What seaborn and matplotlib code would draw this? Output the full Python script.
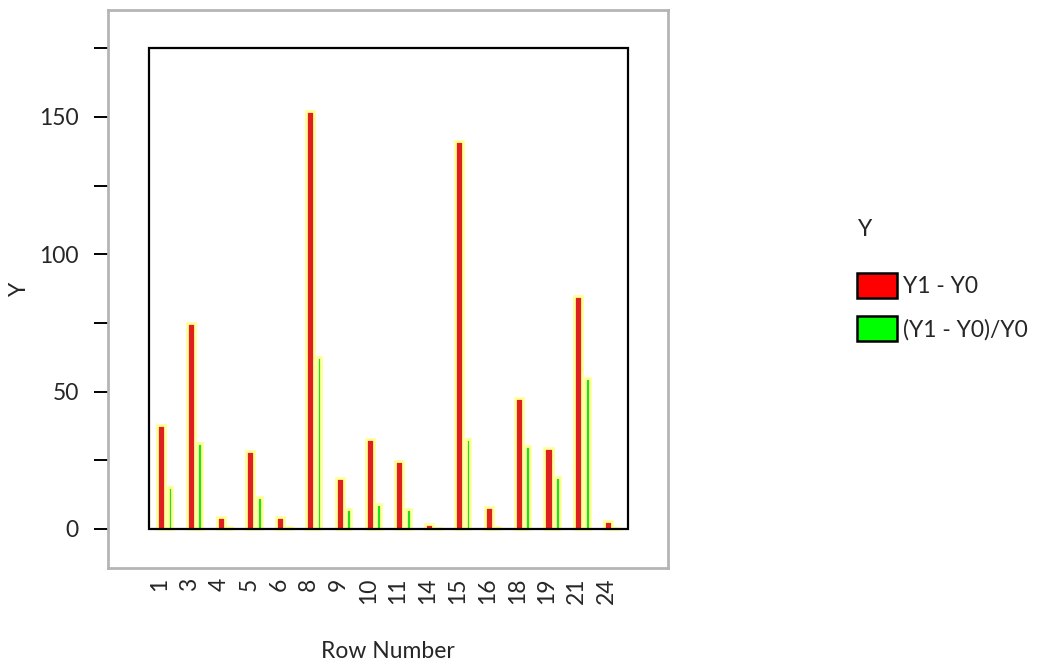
import matplotlib
matplotlib.use("Agg")
import matplotlib.pyplot as plt
from matplotlib.patches import Rectangle, Patch
import pandas as pd
import seaborn as sns

# data
rows = ["1", "3", "4", "5", "6", "8", "9", "10", "11", "14", "15", "16", "18", "19", "21", "24"]
diff = [38, 75, 4.5, 28.4, 4.5, 152, 18.7, 32.8, 24.9, 1.8, 141.2, 8.1, 47.8, 29.4, 84.8, 2.9]
rel_diff = [15.2, 31.2, 0.8, 11.8, 0.8, 62.7, 7.2, 9.0, 7.2, 0.3, 32.8, 0.8, 30.2, 18.8, 54.9, 0.4]
series_names = ["Y1 - Y0", "(Y1 - Y0)/Y0"]
colors = {"Y1 - Y0": "#ff0000", "(Y1 - Y0)/Y0": "#00ff00"}

df = pd.DataFrame({
    "Row Number": rows * 2,
    "Y": diff + rel_diff,
    "series": [series_names[0]] * len(rows) + [series_names[1]] * len(rows),
})

sns.set_style("white")
plt.rcParams["font.family"] = ["Lato", "DejaVu Sans"]
FS = 16.5

fig = plt.figure(figsize=(10.38, 6.64), dpi=100)
ax = fig.add_axes([108 / 1038, 1 - 568 / 664, 560 / 1038, 558 / 664])

sns.barplot(data=df, x="Row Number", y="Y", hue="series", order=rows,
            hue_order=series_names, palette=colors, width=0.6, dodge=True,
            edgecolor="#ffff99", linewidth=2, legend=False, ax=ax, zorder=2)

# narrow the bars, keep their centers (yellow halo around each)
n = len(rows)
for k, p in enumerate(ax.patches[:2 * n]):
    w = 0.27 if k < n else 0.165
    c = p.get_x() + p.get_width() / 2
    p.set_width(w)
    p.set_x(c - w / 2)

# inner black frame
ax.add_patch(Rectangle((-0.55, 0), 16.07, 175, fill=False, edgecolor="black",
                       linewidth=1.6, zorder=5, clip_on=False))

ax.set_xlim(-1.93, 16.86)
ax.set_ylim(-14.2, 188.9)

ax.set_yticks([0, 50, 100, 150])
ax.set_yticks([25, 75, 125, 175], minor=True)
ax.set_xticks([i - 0.2 for i in range(n)])
ax.set_xticklabels(rows, rotation=90)
ax.tick_params(axis="y", which="both", left=True, length=10, width=1.4, color="black",
               labelsize=FS, pad=11)
ax.tick_params(axis="x", length=0, labelsize=FS, pad=7)

for s in ax.spines.values():
    s.set_color("#b5b5b5")
    s.set_linewidth(2)

ax.set_xlabel("Row Number", fontsize=FS, va="center")
ax.set_ylabel("Y", fontsize=FS, va="center")
ax.xaxis.set_label_coords(0.5, (568 - 651) / 558)
ax.yaxis.set_label_coords((20 - 108) / 560, 0.5)

fig.text(858 / 1038, 1 - 230 / 664, "Y", fontsize=FS, va="center", ha="left")
handles = [Patch(facecolor=colors[s], edgecolor="black", linewidth=1.8, label=s) for s in series_names]
leg = fig.legend(handles=handles, loc="upper left",
                 bbox_to_anchor=(857 / 1038, 1 - 273 / 664), frameon=False,
                 fontsize=FS, handlelength=1.74, handleheight=1.3,
                 handletextpad=0.26, labelspacing=0.8, borderpad=0, borderaxespad=0)

fig.savefig("out.png", dpi=100)
